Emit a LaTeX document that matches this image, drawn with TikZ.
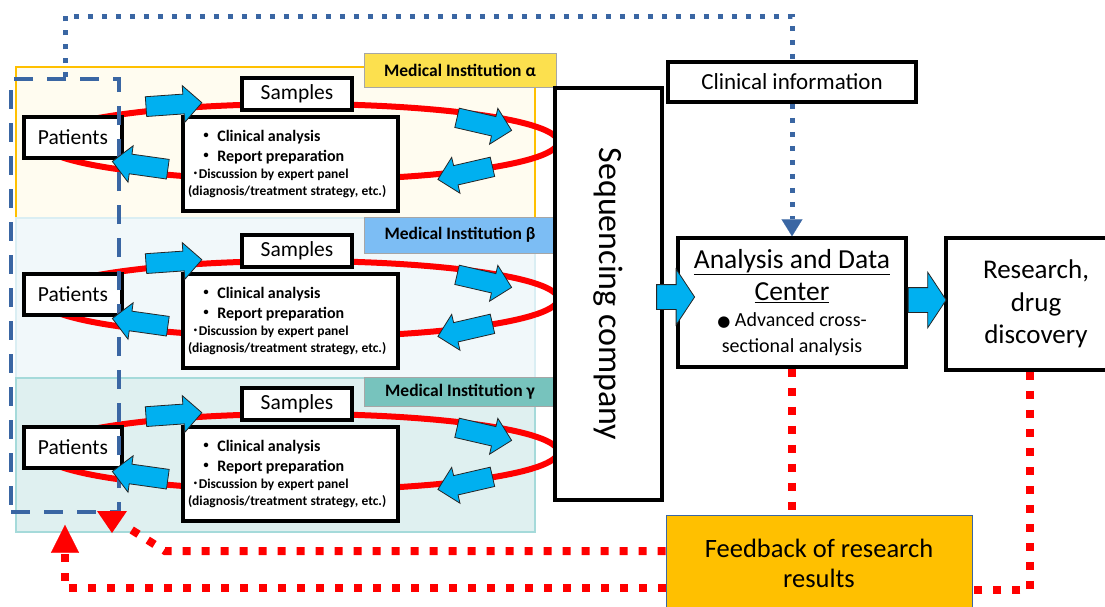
\documentclass[tikz,border=0pt]{standalone}
\usepackage{fontspec}
\setmainfont{Carlito}
\newfontfamily\cjk{Noto Sans CJK JP}
\newfontfamily\symfont{DejaVu Sans}
\usetikzlibrary{shapes.arrows, arrows.meta, calc}

\definecolor{arrowblue}{HTML}{00B0F0}
\definecolor{infoblue}{HTML}{3A66A3}
\definecolor{fbred}{HTML}{FF0000}
\definecolor{fbgold}{HTML}{FFC000}
\definecolor{panelA}{HTML}{FFFCF0}
\definecolor{panelB}{HTML}{F1F8FA}
\definecolor{panelC}{HTML}{DFF0F0}
\definecolor{lineA}{HTML}{FFC000}
\definecolor{lineB}{HTML}{DAEEF3}
\definecolor{lineC}{HTML}{A5DADA}
\definecolor{tagA}{HTML}{FCE04E}
\definecolor{tagB}{HTML}{7CBDF4}
\definecolor{tagC}{HTML}{77C3BD}

\newcommand{\dotmark}{{\cjk ・}}
\newcommand{\halfdot}{{\cjk ･}}
\newcommand{\reporttext}{%
{\fontsize{16}{20}\selectfont\hspace*{10pt}\dotmark\ Clinical analysis\\
\hspace*{10pt}\dotmark\ Report preparation\par}
{\fontsize{13.5}{17}\selectfont\hspace*{4pt}\halfdot Discussion by expert panel\\
(diagnosis/treatment strategy, etc.)\par}}

\begin{document}
\begin{tikzpicture}[x=1pt, y=-1pt,
box/.style={draw, line width=3.5pt, fill=white, inner sep=0pt},
tag/.style={draw=black!35, line width=0.8pt, minimum width=192, inner sep=0pt,
  font=\fontsize{17.5}{20}\selectfont\bfseries},
panel/.style={line width=1.2pt},
loopline/.style={draw=fbred, line width=6pt},
blockarrow/.style={single arrow, draw=black!85, line width=0.8pt, fill=arrowblue,
  inner xsep=0pt, inner ysep=9.5pt, single arrow head extend=8.5pt, minimum height=56},
bigarrow/.style={single arrow, draw=black!85, line width=0.8pt, fill=arrowblue,
  inner xsep=0pt, inner ysep=12pt, single arrow head extend=15.5pt,
  single arrow tip angle=113, minimum height=38},
fbline/.style={draw=fbred, line width=8pt, dash pattern=on 8pt off 11pt},
infoline/.style={draw=infoblue, line width=5pt, dash pattern=on 5pt off 9pt},
frame/.style={draw=infoblue, line width=3.5pt, dash pattern=on 19pt off 14pt, inner sep=0pt}]
\useasboundingbox (0,0) rectangle (1105,606);

% institutions
\fill[panelA, draw=lineA, panel] (16,67) rectangle (535,218);
\fill[panelB, draw=lineB, panel] (16,218) rectangle (535,378);
\fill[panelC, draw=lineC, panel] (16,378) rectangle (535,532);
\node[tag, fill=tagA, minimum height=34] (instA) at (460,70) {Medical Institution α};
\node[tag, fill=tagB, minimum height=36] (instB) at (460,235) {Medical Institution β};
\node[tag, fill=tagC, minimum height=29] (instC) at (460,391.5) {Medical Institution γ};

\foreach \r/\dy in {a/0, b/157, c/310}{
\begin{scope}[shift={(0,\dy)}]
\draw[loopline] (299,142) ellipse [x radius=259, y radius=38];
\node[box, minimum width=110, minimum height=32, font=\fontsize{21.5}{24}\selectfont] (samples-\r) at (297,94) {Samples};
\node[box, minimum width=98, minimum height=41, font=\fontsize{21.5}{24}\selectfont] (patients-\r) at (73,137.5) {Patients};
\node[box, minimum width=215, minimum height=94, text width=205, align=left, font=\bfseries] (report-\r) at (290.5,164) {\reporttext};
\end{scope}
}

\node[frame, minimum width=108, minimum height=433] (pt) at (65,295.5) {};

\foreach \r/\dy in {a/0, b/157, c/310}{
\begin{scope}[shift={(0,\dy)}]
\node[blockarrow, rotate=4] (toSamples-\r) at (169,105) {};
\node[blockarrow, rotate=-13] (toSeq-\r) at (479.5,123) {};
\node[blockarrow, rotate=-167] (fromSeq-\r) at (470,172) {};
\node[blockarrow, rotate=172] (toPatients-\r) at (145,166) {};
\end{scope}
}

% centre
\node[box, rotate=-90, minimum width=412, minimum height=107, font=\fontsize{34}{36}\selectfont] (seq) at (608.5,294) {Sequencing company};
\node[box, minimum width=248, minimum height=40, font=\fontsize{23}{26}\selectfont] (ci) at (792,82) {Clinical information};
\node[box, minimum width=228, minimum height=129, align=center, font=\fontsize{27.5}{32}\selectfont] (an) at (792,302.5)
  {\underline{Analysis and Data}\\\underline{Center}\\[-6pt]
   {\fontsize{20}{22}\selectfont{\symfont\fontsize{15}{20}\selectfont ●} Advanced cross-}\\[-6pt]
   {\fontsize{20}{22}\selectfont sectional analysis}};
\node[box, minimum width=180, minimum height=132, align=center, font=\fontsize{27}{32.5}\selectfont] (re) at (1036,304) {Research,\\drug\\discovery};
\node[draw=infoblue, line width=0.8pt, fill=fbgold, minimum width=306, minimum height=97, align=center,
  font=\fontsize{26.5}{30}\selectfont] (fb) at (819,563.5) {Feedback of research\\results};

\node[bigarrow] (toAnalysis) at (671.5,297) {};
\node[bigarrow] (toResearch) at (923,300) {};

% information flow
\draw[infoline] (pt.north) -- (pt.north |- 0,16) -| (ci.north);
\draw[infoline, -{Triangle[length=17pt, width=21pt, line width=0.1pt]}] (ci.south) -- (an.north);

% feedback
\draw[fbline] (an.south) -- (an.south |- fb.north);
\draw[fbline] (re.south -| 1030,0) |- (fb.east |- 0,590);
\draw[fbline] (fb.west |- 0,551) -- (165,551) -- (127,527);
\fill[fbred] (97,511) -- (127,511) -- (112,533) -- cycle;
\draw[fbline, -{Triangle[length=28pt, width=28pt, line width=0.1pt]}] (fb.west |- 0,588) -| ([yshift=-11pt]pt.south);
\end{tikzpicture}
\end{document}
